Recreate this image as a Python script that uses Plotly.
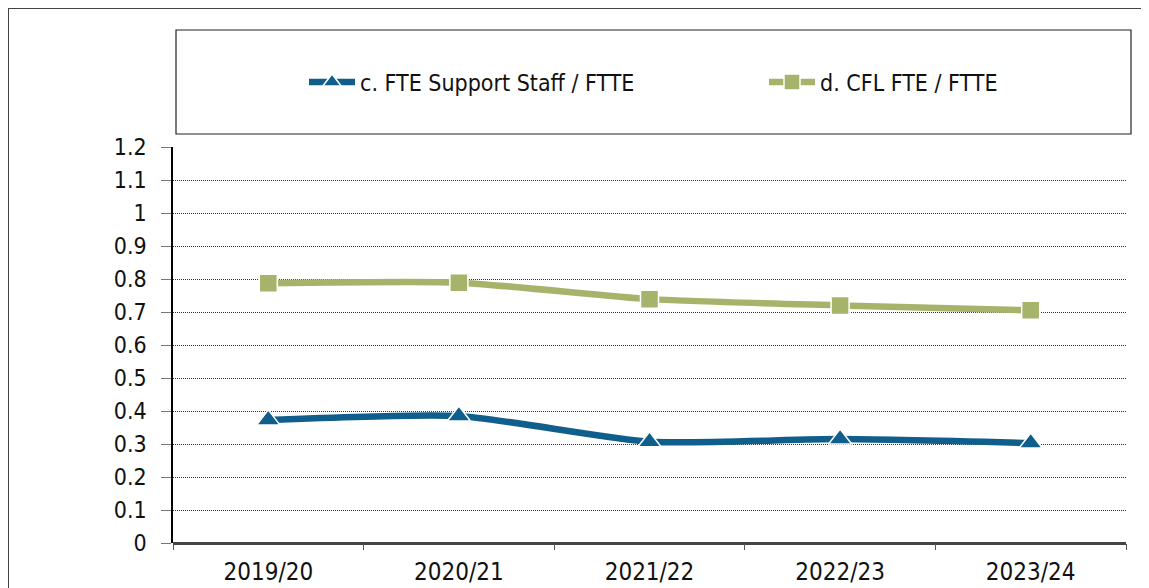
import plotly.graph_objects as go

categories = ["2019/20", "2020/21", "2021/22", "2022/23", "2023/24"]
support_staff = [0.373, 0.385, 0.307, 0.315, 0.303]
cfl_fte = [0.787, 0.789, 0.739, 0.720, 0.705]
y_ticks = [0, 0.1, 0.2, 0.3, 0.4, 0.5, 0.6, 0.7, 0.8, 0.9, 1, 1.1, 1.2]
y_tick_labels = ["0", "0.1", "0.2", "0.3", "0.4", "0.5", "0.6", "0.7", "0.8", "0.9", "1", "1.1", "1.2"]

FONT = "DejaVu Sans Condensed, Liberation Sans Narrow, sans-serif"
BLUE = "#0F5E8C"
GREEN = "#A6B36A"

fig = go.Figure()
fig.add_trace(go.Scatter(
    x=categories, y=support_staff, name="c. FTE Support Staff / FTTE", legend="legend",
    mode="lines+markers", line=dict(color=BLUE, width=6.5, shape="spline", smoothing=0.6),
    marker=dict(symbol="triangle-up", size=20, color=BLUE, line=dict(color="white", width=1.5)),
))
fig.add_trace(go.Scatter(
    x=categories, y=cfl_fte, name="d. CFL FTE / FTTE", legend="legend2",
    mode="lines+markers", line=dict(color=GREEN, width=6.5, shape="spline", smoothing=0.6),
    marker=dict(symbol="square", size=18, color=GREEN, line=dict(color="white", width=1.5)),
))

# page body has an 8px margin: figure coords = window coords - 8
OFF = 8
W, H = 1149 - OFF, 588 - OFF
L, R, T, B = 173 - OFF, 1149 - 1126, 147 - OFF, 588 - 543
pw, ph = W - L - R, H - T - B

def px_x(x):
    return (x - OFF - L) / pw

def px_y(y):
    return (H - B - (y - OFF)) / ph

legend_common = dict(
    orientation="h", yanchor="middle", y=px_y(82), xanchor="left",
    font=dict(family=FONT, size=23, color="#111111"),
    bgcolor="rgba(0,0,0,0)", borderwidth=0, itemwidth=46,
)

fig.update_layout(
    width=W, height=H,
    margin=dict(l=L, r=R, t=T, b=B, autoexpand=False),
    paper_bgcolor="white", plot_bgcolor="white",
    font=dict(family=FONT, size=22, color="#111111"),
    showlegend=True,
    legend=dict(x=px_x(304), **legend_common),
    legend2=dict(x=px_x(764), **legend_common),
    xaxis=dict(
        type="category", tickson="boundaries", ticks="outside", ticklen=6,
        tickcolor="#555555", showline=False, showgrid=False, automargin=False,
        tickfont=dict(family=FONT, size=24), ticklabelstandoff=12,
        range=[-0.5, 4.5],
    ),
    yaxis=dict(
        range=[0, 1.2], tickvals=y_ticks, ticktext=y_tick_labels, automargin=False,
        showgrid=True, gridcolor="#333333", griddash="1px,1px", gridwidth=1,
        ticks="outside", ticklen=10, tickcolor="#777777",
        showline=True, linecolor="black", linewidth=1.5,
        zeroline=True, zerolinecolor="#444444", zerolinewidth=2.5,
        tickfont=dict(family=FONT, size=23), ticklabelstandoff=10,
    ),
    shapes=[
        dict(type="rect", xref="paper", yref="paper",
             x0=px_x(176), x1=px_x(1131), y0=px_y(134), y1=px_y(30),
             line=dict(color="#222222", width=1.2), fillcolor="rgba(0,0,0,0)", layer="below"),
        dict(type="line", xref="paper", yref="paper",
             x0=px_x(8), x1=px_x(1160), y0=px_y(8.5), y1=px_y(8.5),
             line=dict(color="#444444", width=1)),
        dict(type="line", xref="paper", yref="paper",
             x0=px_x(8.5), x1=px_x(8.5), y0=px_y(8), y1=px_y(600),
             line=dict(color="#444444", width=1)),
    ],
)

fig.write_html("out.html")
